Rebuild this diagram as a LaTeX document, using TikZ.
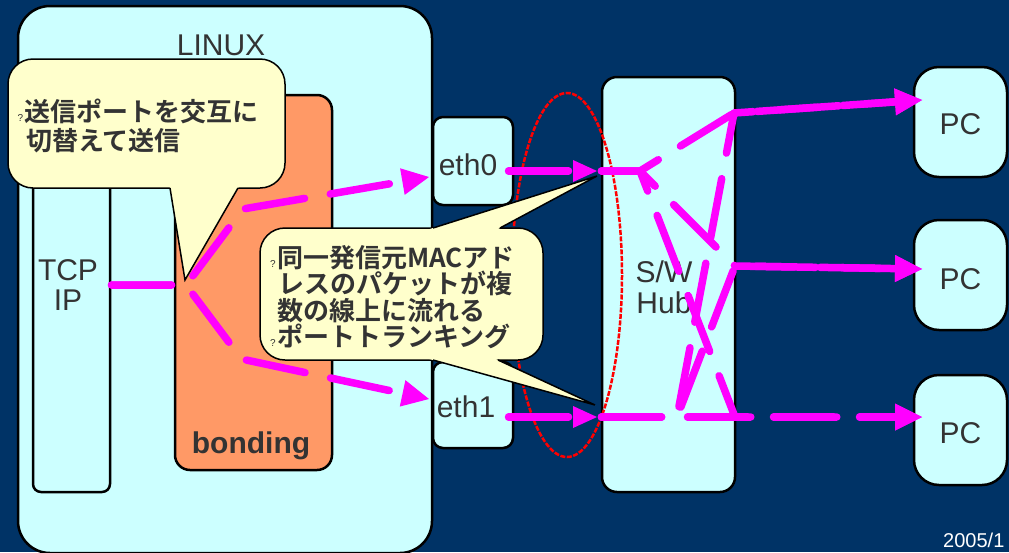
\documentclass[tikz,border=0pt]{standalone}
\usepackage{fontspec}
\setmainfont{Liberation Sans}
\newfontfamily\jpfont{Noto Sans CJK JP}[BoldFont={Noto Sans CJK JP Bold}]
\usetikzlibrary{arrows.meta,calc}

\definecolor{navy}{HTML}{003366}
\definecolor{boxcyan}{HTML}{CCFFFF}
\definecolor{bondorange}{HTML}{FF9966}
\definecolor{noteyellow}{HTML}{FFFFCC}
\definecolor{ink}{HTML}{333333}
\definecolor{flowpink}{HTML}{FF00FF}

\tikzset{
  box/.style={draw=black, line width=2.5pt, fill=boxcyan, inner sep=0pt},
  lbl/.style={text=ink, font=\fontsize{30}{31}\selectfont, inner sep=0pt, anchor=base},
  flow/.style={draw=flowpink, line width=7.5pt, line cap=round, line join=round,
    dash pattern=on 60pt off 26pt,
    -{Triangle[length=27pt,width=27pt,line width=0pt]}},
  shortflow/.style={flow, -{Triangle[length=24pt,width=22pt,line width=0pt]}},
  note/.style={fill=noteyellow, draw=black, line width=1.5pt, rounded corners=25pt},
  wedge/.style={draw=black, line width=1.5pt, line join=miter},
  jp/.style={text=ink, font=\jpfont\bfseries\fontsize{26}{26}\selectfont, inner sep=0pt, anchor=base west},
  qmark/.style={text=ink, font=\fontsize{10}{10}\selectfont, inner sep=0pt, anchor=base east},
}

\begin{document}
\begin{tikzpicture}[x=1pt, y=-1pt]
  % page and background
  \useasboundingbox (0,0) rectangle (1009,552);
  \fill[navy] (0,0) rectangle (1009,552);

  % host side
  \node[box, rounded corners=32pt, minimum width=414pt, minimum height=547pt] (linux) at (225,279.5) {};
  \node[box, rounded corners=8pt, minimum width=77pt, minimum height=332pt] (tcp) at (71.5,326) {};
  \node[box, fill=bondorange, rounded corners=15pt, minimum width=157pt, minimum height=375pt] (bonding) at (253.5,282.5) {};
  \node[box, rounded corners=10pt, minimum width=80pt, minimum height=88pt] (eth0) at (473,161) {};
  \node[box, rounded corners=10pt, minimum width=80pt, minimum height=86pt] (eth1) at (473,405) {};

  % switch and clients
  \node[box, rounded corners=15pt, minimum width=133pt, minimum height=415pt] (hub) at (668.5,284.5) {};
  \node[box, rounded corners=25pt, minimum width=93pt, minimum height=110pt] (pc1) at (960.5,122) {};
  \node[box, rounded corners=25pt, minimum width=93pt, minimum height=110pt] (pc2) at (960.5,275) {};
  \node[box, rounded corners=25pt, minimum width=93pt, minimum height=110pt] (pc3) at (960.5,430) {};

  % box labels
  \node[lbl] (linuxlbl) at (221,55) {LINUX};
  \node[lbl] (tcplbl) at (68,280) {TCP};
  \node[lbl] (iplbl) at (68,310) {IP};
  \node[lbl, font=\bfseries\fontsize{30}{31}\selectfont] (bondlbl) at (251,453) {bonding};
  \node[lbl] (eth0lbl) at (468,175) {eth0};
  \node[lbl] (eth1lbl) at (466,417) {eth1};
  \node[lbl] (swlbl) at (664,282) {S/W};
  \node[lbl] (hublbl) at (664,313) {Hub};
  \node[lbl] (pc1lbl) at (960.5,134) {PC};
  \node[lbl] (pc2lbl) at (960.5,289) {PC};
  \node[lbl] (pc3lbl) at (960.5,443) {PC};

  % trunk group
  \draw[red, line width=2.5pt, dash pattern=on 5pt off 1.5pt] (567,275) ellipse [x radius=55, y radius=182];

  % route points
  \coordinate (tcpout) at (111.5,285);
  \coordinate (fork) at (186,285);
  \coordinate (bu) at (243,209);
  \coordinate (bd) at (241.5,359);
  \coordinate (eth0tip) at (429,177);
  \coordinate (eth1tip) at (429,399);
  \coordinate (eth0src) at (508.5,171);
  \coordinate (eth1src) at (508.5,417);
  \coordinate (hub0tip) at (597,171);
  \coordinate (hub1tip) at (597,417);
  \coordinate (h0) at (601.5,171);
  \coordinate (h1) at (601.5,417);
  \coordinate (A) at (640,171);
  \coordinate (B) at (677,417);
  \coordinate (T) at (734,113);
  \coordinate (M) at (735,266);
  \coordinate (L) at (735,417);
  \coordinate (P1) at (922,100);
  \coordinate (P2) at (922,269);
  \coordinate (P3) at (922,417);

  % bonding fans out to both interfaces
  \draw[flow] (tcpout) -- (fork) -- (bu) -- (eth0tip);
  \draw[flow] (tcpout) -- (fork) -- (bd) -- (eth1tip);
  \draw[shortflow] (eth0src) -- (hub0tip);
  \draw[shortflow] (eth1src) -- (hub1tip);

  % switching inside the hub
  \draw[flow] (h0) -- (A) -- (T) -- (P1);
  \draw[flow] (h0) -- (A) -- (M) -- (P2);
  \draw[flow] (h0) -- (A) -- (L) -- (P3);
  \draw[flow] (h1) -- (B) -- (T) -- (P1);
  \draw[flow] (h1) -- (B) -- (M) -- (P2);
  \draw[flow] (h1) -- (B) -- (L) -- (P3);

  % callout: alternating send port
  \coordinate (c1tip) at (185,280);
  \coordinate (c1a) at (170,188);
  \coordinate (c1b) at (238,188);
  \draw[note] (8,59) rectangle (285,188);
  \fill[noteyellow] (c1tip) -- ($(c1tip)!1.06!(c1a)$) -- ($(c1tip)!1.06!(c1b)$) -- cycle;
  \draw[wedge] (c1a) -- (c1tip) -- (c1b);
  \node[qmark] (q1) at (23.5,121.5) {?};
  \node[jp] (c1l1) at (24,121.5) {送信ポートを交互に};
  \node[jp] (c1l2) at (26,150.5) {切替えて送信};

  % callout: port trunking
  \coordinate (c2tipa) at (597,176);
  \coordinate (c2a1) at (433,228);
  \coordinate (c2a2) at (500,228);
  \coordinate (c2tipb) at (595,405);
  \coordinate (c2b1) at (433,360);
  \coordinate (c2b2) at (498,360);
  \draw[note] (260,228) rectangle (543,360);
  \fill[noteyellow] (c2tipa) -- ($(c2tipa)!1.04!(c2a1)$) -- ($(c2tipa)!1.04!(c2a2)$) -- cycle;
  \draw[wedge] (c2a1) -- (c2tipa) -- (c2a2);
  \fill[noteyellow] (c2tipb) -- ($(c2tipb)!1.04!(c2b1)$) -- ($(c2tipb)!1.04!(c2b2)$) -- cycle;
  \draw[wedge] (c2b1) -- (c2tipb) -- (c2b2);
  \node[qmark] (q2) at (276,267) {?};
  \node[jp] (c2l1) at (277,267) {同一発信元MACアド};
  \node[jp] (c2l2) at (278,293.5) {レスのパケットが複};
  \node[jp] (c2l3) at (277,320) {数の線上に流れる};
  \node[qmark] (q3) at (276,346.5) {?};
  \node[jp] (c2l4) at (277,346.5) {ポートトランキング};

  % date
  \node[text=white, font=\fontsize{20}{20}\selectfont, inner sep=0pt, anchor=base west] (date) at (943,547) {2005/1};
\end{tikzpicture}
\end{document}
